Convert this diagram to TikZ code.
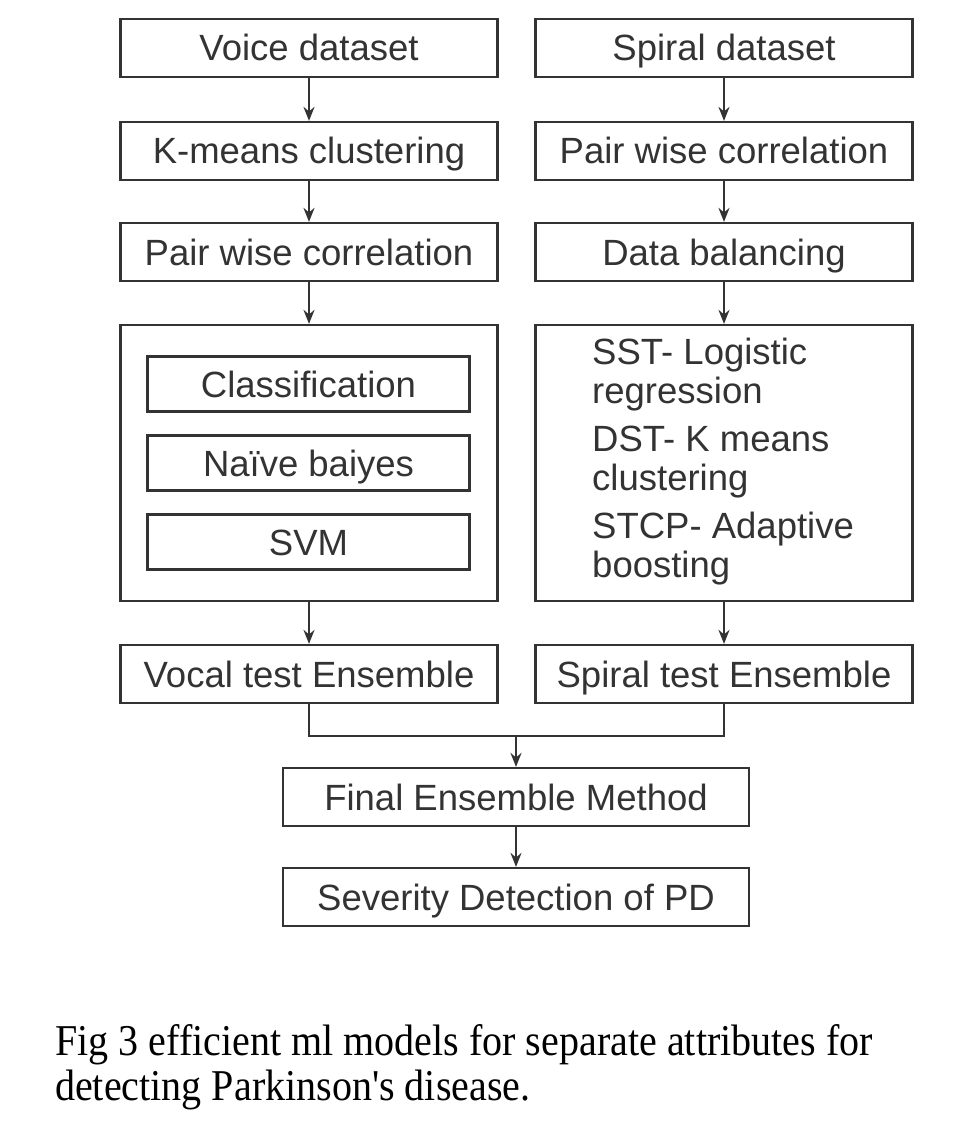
\documentclass[tikz,border=0pt]{standalone}
\usepackage{fontspec}
\setmainfont{Liberation Serif}
\newfontfamily\boxfont{Liberation Sans}
\usetikzlibrary{arrows.meta}
\definecolor{ink}{HTML}{333333}
\begin{document}
\begin{tikzpicture}[x=1pt,y=-1pt,
  box/.style={draw=ink,line width=2.2pt,minimum height=58pt,inner sep=0pt,text=ink,text height=26pt,text depth=0pt,font=\boxfont\fontsize{36.5}{40}\selectfont},
  wbox/.style={box,minimum width=377pt},
  cbox/.style={box,minimum width=466pt},
  ibox/.style={box,minimum width=322pt,minimum height=55pt},
  bigbox/.style={draw=ink,line width=2.2pt,minimum width=377pt,minimum height=276pt,inner sep=0pt},
  arr/.style={draw=ink,line width=2pt,-{Stealth[length=14pt,width=11pt]}},
  ln/.style={draw=ink,line width=2pt}]
\useasboundingbox (0,0) rectangle (976,1126);
\fill[white] (0,0) rectangle (976,1126);
% left column
\node[wbox] (voice) at (309,48) {Voice dataset};
\node[wbox] (kmeans) at (309,151) {K-means clustering};
\node[wbox] (pwl) at (309,252) {Pair wise correlation};
\node[bigbox] (lbig) at (309,463) {};
\node[ibox] (cls) at (308.5,384) {Classification};
\node[ibox] (nb) at (308.5,463) {Naïve baiyes};
\node[ibox] (svm) at (308.5,542) {SVM};
\node[wbox] (vocal) at (309,674) {Vocal test Ensemble};
% right column
\node[wbox] (spiral) at (724,48) {Spiral dataset};
\node[wbox] (pwr) at (724,151) {Pair wise correlation};
\node[wbox] (bal) at (724,252) {Data balancing};
\node[bigbox] (rbig) at (724,463) {};
\node[anchor=north west,inner sep=0pt,text=ink,align=left,font=\boxfont\fontsize{36.5}{39}\selectfont] (rtext) at (592,338)
  {SST- Logistic\\regression\\[9pt]DST- K means\\clustering\\[9pt]STCP- Adaptive\\boosting};
\node[wbox] (spte) at (724,674) {Spiral test Ensemble};
% bottom
\node[cbox] (final) at (516,797) {Final Ensemble Method};
\node[cbox] (sev) at (516,897) {Severity Detection of PD};
\coordinate (jn) at (516,736);
% arrows
\draw[arr] (voice) -- (kmeans);
\draw[arr] (kmeans) -- (pwl);
\draw[arr] (pwl) -- (lbig);
\draw[arr] (lbig) -- (vocal);
\draw[arr] (spiral) -- (pwr);
\draw[arr] (pwr) -- (bal);
\draw[arr] (bal) -- (rbig);
\draw[arr] (rbig) -- (spte);
\draw[ln] (vocal.south) |- (jn) -| (spte.south);
\draw[arr] (jn) -- (final);
\draw[arr] (final) -- (sev);
% caption
\node[anchor=base west,inner sep=0pt,align=left] (cap1) at (55,1055) {\scalebox{0.91}[1]{\fontsize{44}{50}\selectfont Fig 3 efficient ml models for separate attributes for}};
\node[anchor=base west,inner sep=0pt,align=left] (cap2) at (55,1100) {\scalebox{0.91}[1]{\fontsize{44}{50}\selectfont detecting Parkinson\textquotesingle s disease.}};
\end{tikzpicture}
\end{document}
